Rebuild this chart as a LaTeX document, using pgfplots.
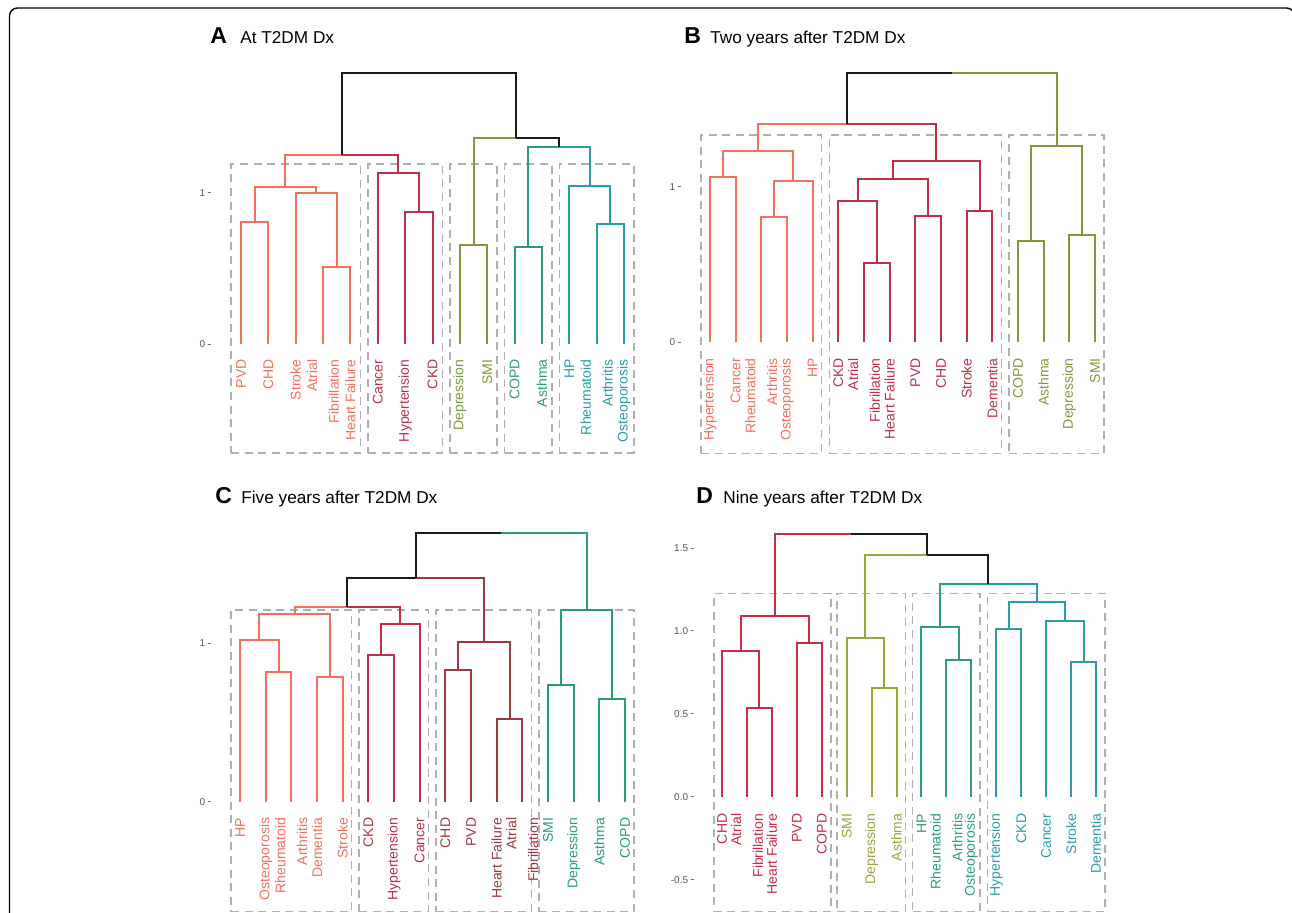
\documentclass[border=0pt]{standalone}
\usepackage{fontspec}
\setmainfont{Liberation Sans}
\usepackage{pgfplots}
\pgfplotsset{compat=1.18}

\definecolor{salmon}{HTML}{F3705F}
\definecolor{crim}{HTML}{BE3049}
\definecolor{maroonc}{HTML}{9C3A44}
\definecolor{olive}{HTML}{7E9B3B}
\definecolor{grn}{HTML}{2C9E6D}
\definecolor{tealc}{HTML}{2A9EA2}
\definecolor{crimD}{HTML}{C82C46}
\definecolor{oliveD}{HTML}{9DA43A}
\definecolor{grnD}{HTML}{2CA072}
\definecolor{tealD}{HTML}{2C9DA6}
\definecolor{dk}{HTML}{1A1A1A}
\definecolor{boxc}{HTML}{B0B0B0}

\newcommand{\labfont}{\fontsize{7}{10.85}\selectfont}
% merge within a cluster: colour, xl, yl, xr, yr, h
\newcommand{\mrg}[6]{\addplot[#1] coordinates {(#2,#3) (#2,#6) (#4,#6) (#4,#5)};}
% merge split in two colours: colL, colR, xl, yl, xm, xr, yr, h
\newcommand{\mrgs}[8]{\addplot[#1] coordinates {(#3,#4) (#3,#8) (#5,#8)};\addplot[#2] coordinates {(#5,#8) (#6,#8) (#6,#7)};}
% dashed box: x1, x2, y1, y2
\newcommand{\bx}[4]{\addplot[boxst] coordinates {(#1,#3) (#2,#3) (#2,#4) (#1,#4) (#1,#3)};}
% leaf label: x, colour, text
\newcommand{\lab}[3]{\node[labst, text=#2] at (axis cs:#1,-0.1) {#3};}

\tikzset{
  boxst/.style={color=boxc, line width=0.75pt, dash pattern=on 4pt off 2.8pt},
  labst/.style={rotate=90, anchor=east, inner sep=0pt, align=right, font=\labfont},
}
\pgfplotsset{
  dend/.style={
    scale only axis, clip=false,
    hide x axis, axis y line*=left, y axis line style={draw=none},
    xtick=\empty, tick align=outside, major tick length=1.75pt,
    ytick style={color=black!55, line width=0.5pt},
    yticklabel style={font=\fontsize{5}{6}\selectfont, text=black!65, inner sep=1pt,
      /pgf/number format/assume math mode=true},
    every axis plot/.append style={line width=1pt, mark=none, line join=miter},
  },
}

\begin{document}
\begin{tikzpicture}
\useasboundingbox (0,0) rectangle (646pt,456.5pt);
\clip (0,0) rectangle (646pt,456.5pt);

\begin{scope}[x=0.5pt,y=0.5pt]
\draw[line width=0.7pt, rounded corners=4pt] (9.5,-40) rectangle (1294.5,905);
\node[anchor=base west, inner sep=0pt, font=\fontsize{11.5}{13}\selectfont\bfseries] at (210,869) {A};
\node[anchor=base west, inner sep=0pt, font=\fontsize{8.6}{10}\selectfont] at (240,869) {At T2DM Dx};
\node[anchor=base west, inner sep=0pt, font=\fontsize{11.5}{13}\selectfont\bfseries] at (684,869.7) {B};
\node[anchor=base west, inner sep=0pt, font=\fontsize{8.6}{10}\selectfont] at (710,869.7) {Two years after T2DM Dx};
\node[anchor=base west, inner sep=0pt, font=\fontsize{11.5}{13}\selectfont\bfseries] at (215,409.7) {C};
\node[anchor=base west, inner sep=0pt, font=\fontsize{8.6}{10}\selectfont] at (241,409.7) {Five years after T2DM Dx};
\node[anchor=base west, inner sep=0pt, font=\fontsize{11.5}{13}\selectfont\bfseries] at (696,409.7) {D};
\node[anchor=base west, inner sep=0pt, font=\fontsize{8.6}{10}\selectfont] at (723,409.7) {Nine years after T2DM Dx};
\end{scope}

% ---------------- Panel A ----------------
\begin{axis}[dend, at={(105.5pt,227.75pt)}, anchor=south west,
  width=221.5pt, height=194.4pt,
  xmin=-0.095, xmax=16.095, ymin=-0.75, ymax=1.82, ytick={0,1}]
\bx{0.64}{5.36}{-0.72}{1.19}
\bx{5.64}{8.36}{-0.72}{1.19}
\bx{8.64}{10.36}{-0.72}{1.19}
\bx{10.64}{12.36}{-0.72}{1.19}
\bx{12.64}{15.36}{-0.72}{1.19}
\mrg{salmon}{1}{0}{2}{0}{0.804}
\mrg{salmon}{4}{0}{5}{0}{0.507}
\mrg{salmon}{3}{0}{4.5}{0.507}{0.996}
\mrg{salmon}{1.5}{0.804}{3.75}{0.996}{1.035}
\mrg{crim}{7}{0}{8}{0}{0.874}
\mrg{crim}{6}{0}{7.5}{0.874}{1.132}
\mrgs{salmon}{crim}{2.625}{1.035}{4.6875}{6.75}{1.132}{1.249}
\mrg{olive}{9}{0}{10}{0}{0.654}
\mrg{grn}{11}{0}{12}{0}{0.643}
\mrg{tealc}{14}{0}{15}{0}{0.793}
\mrg{tealc}{13}{0}{14.5}{0.793}{1.044}
\mrgs{grn}{tealc}{11.5}{0.643}{12.625}{13.75}{1.044}{1.304}
\mrgs{olive}{dk}{9.5}{0.654}{11.0625}{12.625}{1.304}{1.363}
\mrg{dk}{4.6875}{1.249}{11.0625}{1.363}{1.789}
\lab{1}{salmon}{PVD}
\lab{2}{salmon}{CHD}
\lab{3}{salmon}{Stroke}
\lab{4}{salmon}{Atrial\\Fibrillation}
\lab{5}{salmon}{Heart Failure}
\lab{6}{crim}{Cancer}
\lab{7}{crim}{Hypertension}
\lab{8}{crim}{CKD}
\lab{9}{olive}{Depression}
\lab{10}{olive}{SMI}
\lab{11}{grn}{COPD}
\lab{12}{grn}{Asthma}
\lab{13}{tealc}{HP}
\lab{14}{tealc}{Rheumatoid\\Arthritis}
\lab{15}{tealc}{Osteoporosis}
\end{axis}

% ---------------- Panel B ----------------
\begin{axis}[dend, at={(340.5pt,227.75pt)}, anchor=south west,
  width=221.5pt, height=194.4pt,
  xmin=-0.13, xmax=17.13, ymin=-0.740, ymax=1.758, ytick={0,1}]
\bx{0.65}{5.35}{-0.713}{1.332}
\bx{5.65}{12.35}{-0.713}{1.332}
\bx{12.65}{16.35}{-0.713}{1.332}
\mrg{salmon}{1}{0}{2}{0}{1.064}
\mrg{salmon}{3}{0}{4}{0}{0.807}
\mrg{salmon}{3.5}{0.807}{5}{0}{1.036}
\mrg{salmon}{1.5}{1.064}{4.25}{1.036}{1.229}
\mrg{crim}{7}{0}{8}{0}{0.512}
\mrg{crim}{6}{0}{7.5}{0.512}{0.910}
\mrg{crim}{9}{0}{10}{0}{0.812}
\mrg{crim}{6.75}{0.910}{9.5}{0.812}{1.049}
\mrg{crim}{11}{0}{12}{0}{0.844}
\mrg{crim}{8.125}{1.049}{11.5}{0.844}{1.165}
\mrgs{salmon}{crim}{2.875}{1.229}{6.34375}{9.8125}{1.165}{1.403}
\mrg{olive}{13}{0}{14}{0}{0.653}
\mrg{olive}{15}{0}{16}{0}{0.690}
\mrg{olive}{13.5}{0.653}{15.5}{0.690}{1.263}
\mrgs{dk}{olive}{6.34375}{1.403}{10.421875}{14.5}{1.263}{1.728}
\lab{1}{salmon}{Hypertension}
\lab{2}{salmon}{Cancer}
\lab{3}{salmon}{Rheumatoid\\Arthritis}
\lab{4}{salmon}{Osteoporosis}
\lab{5}{salmon}{HP}
\lab{6}{crim}{CKD}
\lab{7}{crim}{Atrial\\Fibrillation}
\lab{8}{crim}{Heart Failure}
\lab{9}{crim}{PVD}
\lab{10}{crim}{CHD}
\lab{11}{crim}{Stroke}
\lab{12}{crim}{Dementia}
\lab{13}{olive}{COPD}
\lab{14}{olive}{Asthma}
\lab{15}{olive}{Depression}
\lab{16}{olive}{SMI}
\end{axis}

% ---------------- Panel C ----------------
\begin{axis}[dend, at={(105.5pt,-2.35pt)}, anchor=south west,
  width=221.5pt, height=194.4pt,
  xmin=-0.13, xmax=17.13, ymin=-0.733, ymax=1.723, ytick={0,1}]
\bx{0.65}{5.35}{-0.695}{1.21}
\bx{5.64}{8.35}{-0.695}{1.21}
\bx{8.64}{12.36}{-0.695}{1.21}
\bx{12.64}{16.35}{-0.695}{1.21}
\mrg{salmon}{2}{0}{3}{0}{0.817}
\mrg{salmon}{1}{0}{2.5}{0.817}{1.021}
\mrg{salmon}{4}{0}{5}{0}{0.789}
\mrg{salmon}{1.75}{1.021}{4.5}{0.789}{1.185}
\mrg{crim}{6}{0}{7}{0}{0.926}
\mrg{crim}{6.5}{0.926}{8}{0}{1.122}
\mrgs{salmon}{crim}{3.125}{1.185}{5.1875}{7.25}{1.122}{1.232}
\mrg{maroonc}{9}{0}{10}{0}{0.832}
\mrg{maroonc}{11}{0}{12}{0}{0.520}
\mrg{maroonc}{9.5}{0.832}{11.5}{0.520}{1.011}
\mrgs{dk}{maroonc}{5.1875}{1.232}{7.84375}{10.5}{1.011}{1.415}
\mrg{grn}{13}{0}{14}{0}{0.737}
\mrg{grn}{15}{0}{16}{0}{0.646}
\mrg{grn}{13.5}{0.737}{15.5}{0.646}{1.211}
\mrgs{dk}{grn}{7.84375}{1.415}{11.171875}{14.5}{1.211}{1.695}
\lab{1}{salmon}{HP}
\lab{2}{salmon}{Osteoporosis}
\lab{3}{salmon}{Rheumatoid\\Arthritis}
\lab{4}{salmon}{Dementia}
\lab{5}{salmon}{Stroke}
\lab{6}{crim}{CKD}
\lab{7}{crim}{Hypertension}
\lab{8}{crim}{Cancer}
\lab{9}{maroonc}{CHD}
\lab{10}{maroonc}{PVD}
\lab{11}{maroonc}{Heart Failure}
\lab{12}{maroonc}{Atrial\\Fibrillation}
\lab{13}{grn}{SMI}
\lab{14}{grn}{Depression}
\lab{15}{grn}{Asthma}
\lab{16}{grn}{COPD}
\end{axis}

% ---------------- Panel D ----------------
\begin{axis}[dend, at={(347pt,-2.35pt)}, anchor=south west,
  width=215pt, height=194.4pt,
  xmin=-0.125, xmax=17.125, ymin=-0.730, ymax=1.616,
  ytick={-0.5,0,0.5,1,1.5},
  yticklabel style={/pgf/number format/.cd, fixed, fixed zerofill, precision=1}]
\bx{0.67}{5.37}{-0.694}{1.227}
\bx{5.61}{8.35}{-0.694}{1.227}
\bx{8.65}{11.35}{-0.694}{1.227}
\bx{11.65}{16.37}{-0.694}{1.227}
\mrg{crimD}{2}{0}{3}{0}{0.533}
\mrg{crimD}{1}{0}{2.5}{0.533}{0.879}
\mrg{crimD}{4}{0}{5}{0}{0.930}
\mrg{crimD}{1.75}{0.879}{4.5}{0.930}{1.091}
\mrg{oliveD}{7}{0}{8}{0}{0.654}
\mrg{oliveD}{6}{0}{7.5}{0.654}{0.960}
\mrg{grnD}{10}{0}{11}{0}{0.823}
\mrg{grnD}{9}{0}{10.5}{0.823}{1.022}
\mrg{tealD}{12}{0}{13}{0}{1.014}
\mrg{tealD}{15}{0}{16}{0}{0.811}
\mrg{tealD}{14}{0}{15.5}{0.811}{1.060}
\mrg{tealD}{12.5}{1.014}{14.75}{1.060}{1.177}
\mrgs{grnD}{tealD}{9.75}{1.022}{11.6875}{13.625}{1.177}{1.282}
\mrgs{oliveD}{dk}{6.75}{0.960}{9.21875}{11.6875}{1.282}{1.459}
\mrgs{crimD}{dk}{3.125}{1.091}{6.171875}{9.21875}{1.459}{1.586}
\lab{1}{crimD}{CHD}
\lab{2}{crimD}{Atrial\\Fibrillation}
\lab{3}{crimD}{Heart Failure}
\lab{4}{crimD}{PVD}
\lab{5}{crimD}{COPD}
\lab{6}{oliveD}{SMI}
\lab{7}{oliveD}{Depression}
\lab{8}{oliveD}{Asthma}
\lab{9}{grnD}{HP}
\lab{10}{grnD}{Rheumatoid\\Arthritis}
\lab{11}{grnD}{Osteoporosis}
\lab{12}{tealD}{Hypertension}
\lab{13}{tealD}{CKD}
\lab{14}{tealD}{Cancer}
\lab{15}{tealD}{Stroke}
\lab{16}{tealD}{Dementia}
\end{axis}
\end{tikzpicture}
\end{document}
